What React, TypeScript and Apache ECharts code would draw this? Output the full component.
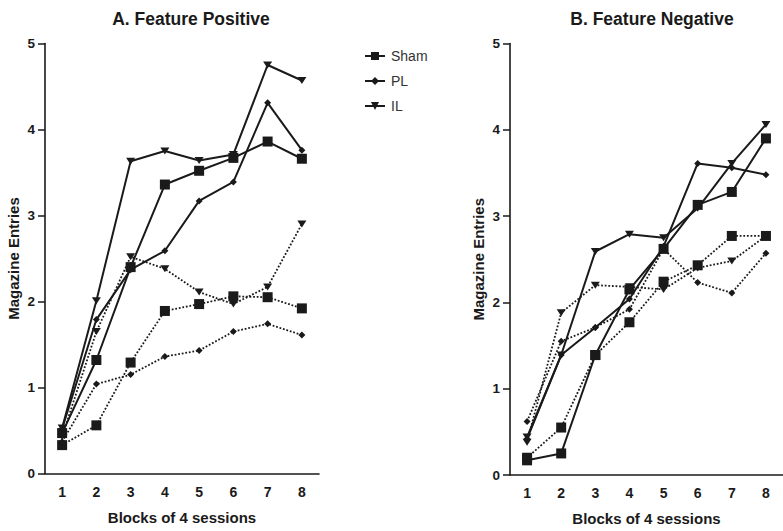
import React, { useEffect, useRef } from "react";
import * as echarts from "echarts";

const blocks = ["1", "2", "3", "4", "5", "6", "7", "8"];

// A. Feature Positive
const fpShamSolid = [0.47, 1.32, 2.4, 3.36, 3.52, 3.67, 3.86, 3.66];
const fpShamDot = [0.33, 0.56, 1.29, 1.89, 1.97, 2.06, 2.05, 1.92];
const fpPLSolid = [0.52, 1.79, 2.37, 2.59, 3.17, 3.39, 4.31, 3.76];
const fpPLDot = [0.37, 1.04, 1.15, 1.36, 1.43, 1.65, 1.74, 1.61];
const fpILSolid = [0.53, 2.01, 3.63, 3.75, 3.64, 3.71, 4.75, 4.57];
const fpILDot = [0.43, 1.65, 2.52, 2.38, 2.11, 1.97, 2.17, 2.9];

// B. Feature Negative
const nfShamSolid = [0.17, 0.25, 1.39, 2.15, 2.62, 3.13, 3.28, 3.9];
const nfShamDot = [0.2, 0.55, 1.39, 1.77, 2.24, 2.43, 2.77, 2.77];
const nfPLSolid = [0.42, 1.39, 1.71, 2.04, 2.65, 3.61, 3.56, 3.48];
const nfPLDot = [0.62, 1.55, 1.71, 1.92, 2.62, 2.23, 2.11, 2.57];
const nfILSolid = [0.44, 1.39, 2.59, 2.79, 2.75, 3.09, 3.61, 4.06];
const nfILDot = [0.38, 1.88, 2.2, 2.18, 2.15, 2.4, 2.48, 2.77];

const groups = ["Sham", "PL", "IL"];
const titles = ["A. Feature Positive", "B. Feature Negative"];

const FONT = "'Liberation Sans', Arial, sans-serif";
const INK = "#1a1a1a";
const TRI_DOWN = "path://M0,0 L10,0 L5,8 Z";

const symbolFor: Record<string, any> = {
  Sham: { symbol: "rect", size: 10 },
  PL: { symbol: "diamond", size: 7 },
  IL: { symbol: TRI_DOWN, size: [9, 7] },
};

function mkSeries(name: string, data: number[], idx: number, dotted: boolean) {
  const s = symbolFor[name];
  return {
    type: "line",
    name: dotted ? name + " (dotted)" : name,
    xAxisIndex: idx,
    yAxisIndex: idx,
    data,
    symbol: s.symbol,
    symbolSize: s.size,
    showAllSymbol: true,
    itemStyle: { color: INK },
    lineStyle: { color: INK, width: dotted ? 1.8 : 2, type: dotted ? "dotted" : "solid" },
    emphasis: { disabled: true },
    z: dotted ? 2 : 3,
  };
}

export default function App() {
  const ref = useRef<HTMLDivElement>(null);
  useEffect(() => {
    if (!ref.current) return;
    const chart = echarts.init(ref.current, undefined, { renderer: "svg" });
    const labelBase = { color: INK, fontWeight: "bold", fontFamily: FONT };
    const nameStyle = { color: INK, fontWeight: "bold", fontSize: 15, fontFamily: FONT };
    const grids = [
      { left: 45, top: 43.5, width: 274, height: 430 },
      { left: 510, top: 43.5, width: 274, height: 432.5 },
    ];
    const xAxes = grids.map((_, i) => ({
      type: "category",
      gridIndex: i,
      data: blocks,
      boundaryGap: true,
      axisLine: { lineStyle: { color: INK, width: 1.6 } },
      axisTick: { alignWithLabel: true, length: 7, lineStyle: { color: INK, width: 1.5 } },
      axisLabel: { ...labelBase, fontSize: 14, margin: 11 },
      name: "Blocks of 4 sessions",
      nameLocation: "middle",
      nameGap: 36,
      nameTextStyle: nameStyle,
    }));
    const yAxes = grids.map((_, i) => ({
      type: "value",
      gridIndex: i,
      min: 0,
      max: 5,
      interval: 1,
      splitLine: { show: false },
      axisLine: { show: true, lineStyle: { color: INK, width: 1.6 } },
      axisTick: { show: true, length: 7, lineStyle: { color: INK, width: 1.5 } },
      axisLabel: { ...labelBase, fontSize: 13.5, margin: 10 },
      name: "Magazine Entries",
      nameLocation: "middle",
      nameGap: 24,
      nameTextStyle: nameStyle,
    }));
    const series = [
      mkSeries("Sham", fpShamDot, 0, true),
      mkSeries("PL", fpPLDot, 0, true),
      mkSeries("IL", fpILDot, 0, true),
      mkSeries("Sham", fpShamSolid, 0, false),
      mkSeries("PL", fpPLSolid, 0, false),
      mkSeries("IL", fpILSolid, 0, false),
      mkSeries("Sham", nfShamDot, 1, true),
      mkSeries("PL", nfPLDot, 1, true),
      mkSeries("IL", nfILDot, 1, true),
      mkSeries("Sham", nfShamSolid, 1, false),
      mkSeries("PL", nfPLSolid, 1, false),
      mkSeries("IL", nfILSolid, 1, false),
    ];
    const titleStyle = { color: INK, fontWeight: "bold", fontSize: 17.5, fontFamily: FONT };
    chart.setOption({
      animation: false,
      backgroundColor: "#ffffff",
      title: [
        { text: titles[0], left: 186, top: 5, textAlign: "center", textStyle: titleStyle },
        { text: titles[1], left: 647, top: 5, textAlign: "center", textStyle: titleStyle },
      ],
      legend: {
        orient: "vertical",
        left: 359,
        top: 44,
        data: groups,
        itemWidth: 20,
        itemHeight: 10,
        itemGap: 11,
        selectedMode: false,
        textStyle: { color: "#333", fontSize: 14, fontFamily: FONT, padding: [0, 0, 0, 1] },
      },
      grid: grids,
      xAxis: xAxes,
      yAxis: yAxes,
      series,
    });
    return () => chart.dispose();
  }, []);
  return (
    <div
      ref={ref}
      style={{ position: "fixed", left: 0, top: 0, width: 783, height: 531, background: "#fff" }}
    />
  );
}
